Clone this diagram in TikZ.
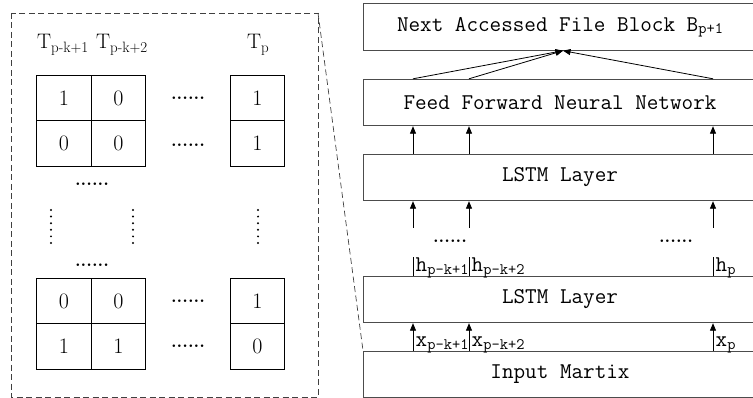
\documentclass[tikz,border=0pt]{standalone}
\usepackage{fontspec}
\usetikzlibrary{arrows.meta}
\newcommand\msub[1]{\raisebox{-2.5pt}{\fontsize{16}{16}\selectfont #1}}
\newcommand\lsub[1]{\raisebox{-3.5pt}{\fontsize{15}{15}\selectfont #1}}
\begin{document}
\begin{tikzpicture}[x=1pt,y=-1pt,
  layer/.style={draw=black!70, line width=0.9pt, minimum width=393pt, minimum height=46.5pt, inner sep=0pt,
    font=\ttfamily\fontsize{22.5}{23}\selectfont},
  cell/.style={draw=black, line width=0.8pt, minimum width=54.5pt, minimum height=45.5pt, inner sep=0pt,
    font=\fontsize{22}{22}\selectfont},
  hdots/.style={anchor=base, inner sep=0pt, font=\bfseries\fontsize{18}{18}\selectfont},
  lab/.style={anchor=base west, inner sep=0pt, font=\ttfamily\fontsize{22.5}{23}\selectfont},
  tlab/.style={anchor=base west, inner sep=0pt, font=\fontsize{21}{21}\selectfont},
  arr/.style={line width=0.8pt, -{Triangle[length=7.5pt,width=6pt]}},
  frame/.style={draw=black!75, line width=0.7pt, dash pattern=on 6pt off 3.5pt}
]
\useasboundingbox (0,0) rectangle (753,398);

% right-hand layers
\node[layer] (next)  at (560,27)    {Next Accessed File Block B\msub{p+1}};
\node[layer] (ffnn)  at (560,102.5) {Feed Forward Neural Network};
\node[layer] (lstmA) at (560,177.5) {LSTM Layer};
\node[layer] (lstmB) at (560,299.5) {LSTM Layer};
\node[layer] (input) at (560,374.5) {Input Martix};

\coordinate (c1) at (413,0);
\coordinate (c2) at (469,0);
\coordinate (c3) at (713,0);
\coordinate (tip) at (563,0);

% input -> lower LSTM
\foreach \c in {c1,c2,c3} \draw[arr] (input.north -| \c) -- (lstmB.south -| \c);
\node[lab] (x1) at (415.5,347) {x\msub{p-k+1}};
\node[lab] (x2) at (471.5,347) {x\msub{p-k+2}};
\node[lab] (x3) at (715.5,347) {x\msub{p}};

% h outputs
\foreach \c in {c1,c2,c3} \draw[line width=0.8pt] (lstmB.north -| \c) -- ++(0,-19);
\node[lab] (h1) at (415.5,272) {h\msub{p-k+1}};
\node[lab] (h2) at (471.5,272) {h\msub{p-k+2}};
\node[lab] (h3) at (715.5,272) {h\msub{p}};
\node[hdots] (d1) at (450,243) {......};
\node[hdots] (d2) at (676,243) {......};

% upper LSTM input arrows
\coordinate (lowA) at (0,228);
\foreach \c in {c1,c2,c3} \draw[arr] (lowA -| \c) -- (lstmA.south -| \c);
% upper LSTM -> FFNN
\foreach \c in {c1,c2,c3} \draw[arr] (lstmA.north -| \c) -- (ffnn.south -| \c);
% FFNN -> next
\foreach \c in {c1,c2,c3} \draw[arr] (ffnn.north -| \c) -- (next.south -| tip);

% dashed frame
\draw[frame] (11,13) rectangle (318,397);
\coordinate (fc) at (318,13);
\draw[frame] (fc) -- (input.north west);

% column labels
\node[tlab] (t1) at (37,49) {T\lsub{p-k+1}};
\node[tlab] (t2) at (96,49) {T\lsub{p-k+2}};
\node[tlab] (t3) at (247,49) {T\lsub{p}};

% top matrix
\node[cell] (a11) at (64,98)    {1};
\node[cell] (a12) at (118.5,98) {0};
\node[cell] (a21) at (64,143.5) {0};
\node[cell] (a22) at (118.5,143.5) {0};
\node[cell] (a13) at (257.5,98) {1};
\node[cell] (a23) at (257.5,143.5) {1};
\node[hdots] at (188,100) {......};
\node[hdots] at (188,147) {......};
\node[hdots] at (92,186) {......};

% vertical dots
\foreach \x in {51,133,258}
  \foreach \k in {0,...,5}
    \fill (\x,210+\k*6.6) circle (1.1pt);

% bottom matrix
\node[hdots] at (92,267) {......};
\node[cell] (b11) at (64,301)    {0};
\node[cell] (b12) at (118.5,301) {0};
\node[cell] (b21) at (64,346.5)    {1};
\node[cell] (b22) at (118.5,346.5) {1};
\node[cell] (b13) at (257.5,301) {1};
\node[cell] (b23) at (257.5,346.5) {0};
\node[hdots] at (188,303) {......};
\node[hdots] at (188,348) {......};
\end{tikzpicture}
\end{document}
